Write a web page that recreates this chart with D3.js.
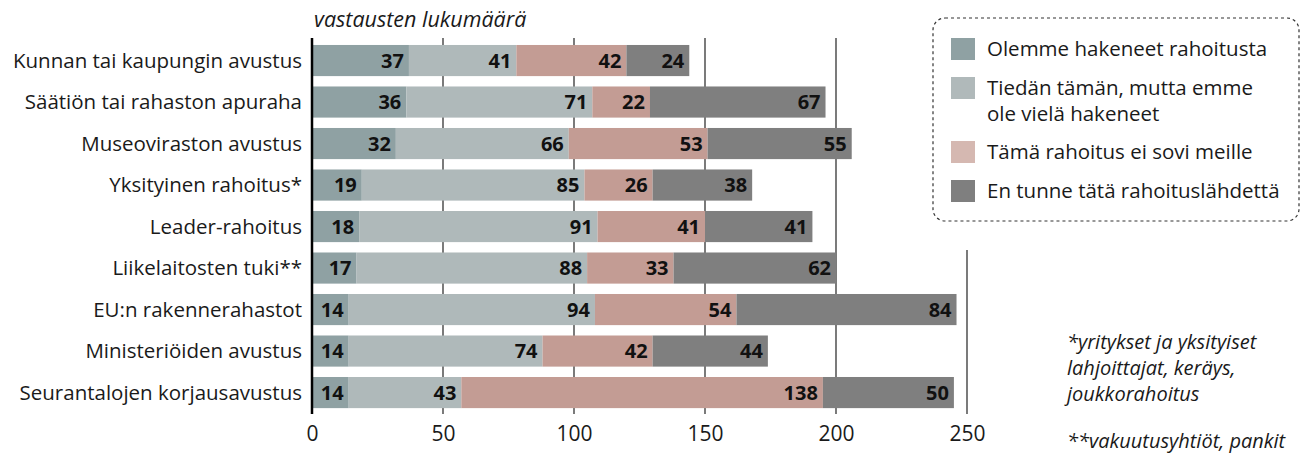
<!DOCTYPE html>
<html>
<head>
<meta charset="utf-8">
<script src="https://cdn.jsdelivr.net/npm/d3@7"></script>
<style>
  body { margin: 0; background: #fff; }
  svg { display: block; font-family: "Open Sans", sans-serif; }
</style>
</head>
<body>
<svg id="chart" width="1302" height="453"></svg>
<script>
// categories, top to bottom
var categories = [
    "Kunnan tai kaupungin avustus",
    "Säätiön tai rahaston apuraha",
    "Museoviraston avustus",
    "Yksityinen rahoitus*",
    "Leader-rahoitus",
    "Liikelaitosten tuki**",
    "EU:n rakennerahastot",
    "Ministeriöiden avustus",
    "Seurantalojen korjausavustus"
]
// one array per series
var haettu   = [37, 36, 32, 19, 18, 17, 14, 14, 14]
var tiedan   = [41, 71, 66, 85, 91, 88, 94, 74, 43]
var eiSovi   = [42, 22, 53, 26, 41, 33, 54, 42, 138]
var enTunne  = [24, 67, 55, 38, 41, 62, 84, 44, 50]

var seriesNames = [
    ["Olemme hakeneet rahoitusta"],
    ["Tiedän tämän, mutta emme", "ole vielä hakeneet"],
    ["Tämä rahoitus ei sovi meille"],
    ["En tunne tätä rahoituslähdettä"]
]
var xTicks = [0, 50, 100, 150, 200, 250]
var axisTitle = "vastausten lukumäärä"
var footnotes = [
    "*yritykset ja yksityiset",
    "lahjoittajat, keräys,",
    "joukkorahoitus",
    "**vakuutusyhtiöt, pankit"
]

var barColors = ["#8fa1a3", "#afb9ba", "#c39c94", "#7f7f7f"]
var swatchColors = ["#8fa1a3", "#b0b9ba", "#d5b8b1", "#7f7f7f"]

var svg = d3.select("#chart")

// build rows for stacking
var rows = categories.map(function(c, i) {
    return {cat: c, s0: haettu[i], s1: tiedan[i], s2: eiSovi[i], s3: enTunne[i]}
})
var stack = d3.stack().keys(["s0", "s1", "s2", "s3"])(rows)

var x = d3.scaleLinear().domain([0, 250]).range([312, 967])
var y = d3.scaleBand().domain(categories).range([34.6, 418.5]).padding(0.25)

var gridTop = 38, gridBottom = 414

// gridlines behind bars
svg.append("g").selectAll("line")
    .data(xTicks.filter(function(d) { return d > 0 }))
    .enter().append("line")
    .attr("x1", function(d) { return x(d) }).attr("x2", function(d) { return x(d) })
    .attr("y1", gridTop).attr("y2", gridBottom)
    .attr("stroke", "#333").attr("stroke-width", 1.3)

// bars
var layers = svg.append("g").selectAll("g")
    .data(stack)
    .enter().append("g")
    .attr("fill", function(d, i) { return barColors[i] })

layers.selectAll("rect")
    .data(function(d) { return d })
    .enter().append("rect")
    .attr("x", function(d) { return x(d[0]) })
    .attr("width", function(d) { return x(d[1]) - x(d[0]) })
    .attr("y", function(d) { return y(d.data.cat) })
    .attr("height", y.bandwidth())

// value labels
layers.selectAll("text")
    .data(function(d) { return d })
    .enter().append("text")
    .attr("x", function(d) { return x(d[1]) - 5 })
    .attr("y", function(d) { return y(d.data.cat) + y.bandwidth() / 2 + 7 })
    .attr("text-anchor", "end")
    .attr("fill", "#111")
    .attr("font-weight", "bold")
    .attr("font-size", 20)
    .text(function(d) { return d[1] - d[0] })

// zero axis line
svg.append("line")
    .attr("x1", x(0)).attr("x2", x(0))
    .attr("y1", gridTop).attr("y2", gridBottom)
    .attr("stroke", "#000").attr("stroke-width", 2.5)

// category labels
svg.append("g").selectAll("text")
    .data(categories)
    .enter().append("text")
    .attr("x", 302)
    .attr("y", function(d) { return y(d) + y.bandwidth() / 2 + 7 })
    .attr("text-anchor", "end")
    .attr("fill", "#1a1a1a")
    .attr("font-size", 20.5)
    .text(function(d) { return d })

// x axis tick labels
var xAxis = d3.axisBottom(x).tickValues(xTicks).tickSize(0).tickPadding(0)
var ax = svg.append("g").attr("transform", "translate(0,426)").call(xAxis)
ax.select(".domain").remove()
ax.selectAll("text")
    .attr("font-size", 21)
    .attr("font-family", "'Open Sans', sans-serif")
    .attr("fill", "#1a1a1a")

// axis title
svg.append("text")
    .attr("x", 314).attr("y", 27)
    .attr("font-size", 21.5)
    .attr("font-style", "italic")
    .attr("fill", "#1a1a1a")
    .text(axisTitle)

// legend
var lg = svg.append("g")
lg.append("rect")
    .attr("x", 925).attr("y", 10).attr("width", 377).attr("height", 240)
    .attr("fill", "#fff")
lg.append("rect")
    .attr("x", 933).attr("y", 18).attr("width", 366).attr("height", 203)
    .attr("rx", 12).attr("ry", 12)
    .attr("fill", "#fff")
    .attr("stroke", "#333").attr("stroke-width", 1.2)
    .attr("stroke-dasharray", "3,3")

var swatchY = [38, 77, 141, 180]
var items = lg.selectAll("g.item")
    .data(seriesNames)
    .enter().append("g").attr("class", "item")
items.append("rect")
    .attr("x", 951)
    .attr("y", function(d, i) { return swatchY[i] })
    .attr("width", 24).attr("height", 22)
    .attr("fill", function(d, i) { return swatchColors[i] })
items.append("text")
    .attr("font-size", 20.5)
    .attr("fill", "#1a1a1a")
    .each(function(d, i) {
        var t = d3.select(this)
        d.forEach(function(line, k) {
            t.append("tspan")
                .attr("x", 987)
                .attr("y", swatchY[i] + 18 + k * 26)
                .text(line)
        })
    })

// footnotes
svg.append("g").selectAll("text")
    .data(footnotes)
    .enter().append("text")
    .attr("x", 1067)
    .attr("y", function(d, i) { return [349, 375, 401, 448][i] })
    .attr("font-size", 20)
    .attr("font-style", "italic")
    .attr("fill", "#1a1a1a")
    .text(function(d) { return d })
</script>
</body>
</html>
